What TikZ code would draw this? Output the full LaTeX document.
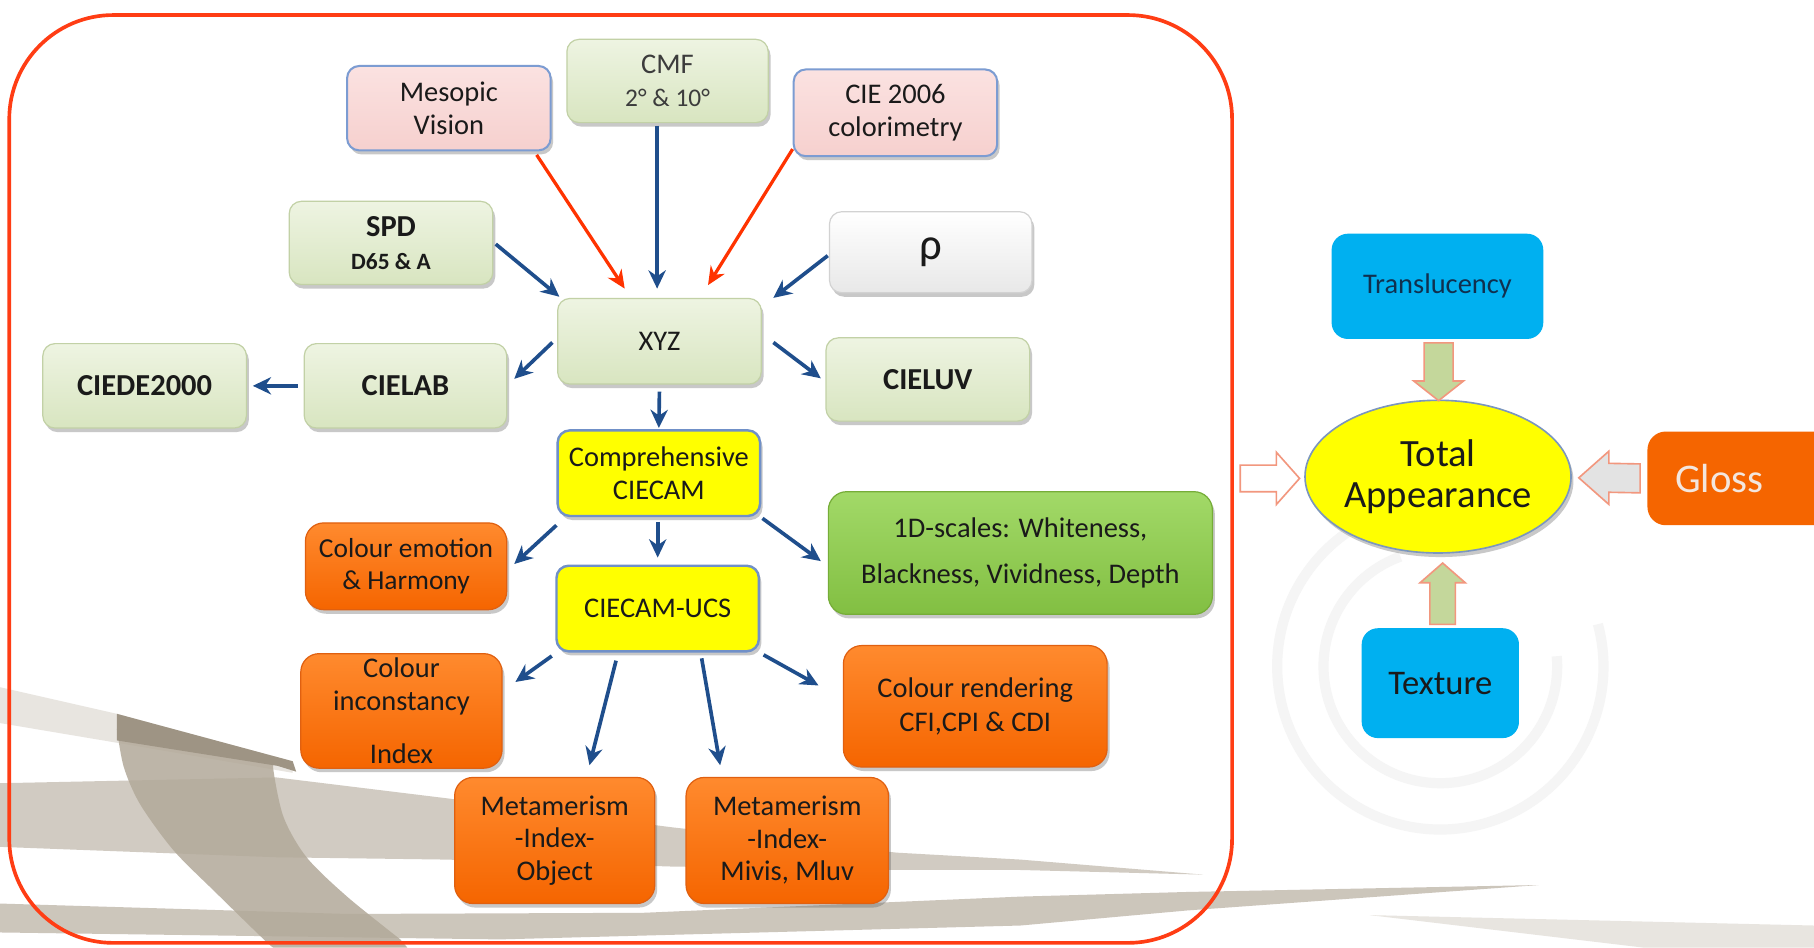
\documentclass[tikz,border=0pt]{standalone}
\usepackage{fontspec}
\setmainfont{Carlito}
\usetikzlibrary{shadows,calc,arrows.meta,shapes.geometric}

\definecolor{frameRed}{HTML}{FF3D14}
\definecolor{arrowBlue}{HTML}{1F4E8C}
\definecolor{arrowRed}{HTML}{FF3300}
\definecolor{paleT}{HTML}{EEF4E2}
\definecolor{paleB}{HTML}{D8E5C0}
\definecolor{paleE}{HTML}{C2D1A6}
\definecolor{pinkT}{HTML}{FBE2E1}
\definecolor{pinkB}{HTML}{F6D0CE}
\definecolor{pinkE}{HTML}{7C9CD2}
\definecolor{yel}{HTML}{FFFF00}
\definecolor{yelE}{HTML}{7090C8}
\definecolor{oraT}{HTML}{FF8A2E}
\definecolor{oraB}{HTML}{F56500}
\definecolor{oraE}{HTML}{E06010}
\definecolor{grnT}{HTML}{A2D968}
\definecolor{grnB}{HTML}{82BF42}
\definecolor{grnE}{HTML}{76AD38}
\definecolor{blu}{HTML}{00B0F0}
\definecolor{whtT}{HTML}{FFFFFF}
\definecolor{whtB}{HTML}{E8E8E8}
\definecolor{whtE}{HTML}{D2D2D2}
\definecolor{blockG}{HTML}{C4D79B}
\definecolor{blockE}{HTML}{F2977E}
\definecolor{blockGray}{HTML}{E3E3E3}
\definecolor{txt}{HTML}{1A1A1A}
\definecolor{cmftxt}{HTML}{3C3C3C}
\definecolor{navy}{HTML}{10304F}
\definecolor{glossTxt}{HTML}{F3E6DE}
\definecolor{ellE}{HTML}{7B96BE}
\definecolor{bgA}{HTML}{E8E5E0}
\definecolor{bgDark}{HTML}{9E9484}
\definecolor{bgMid}{HTML}{C6BFB3}
\definecolor{bgArc}{HTML}{B2A999}
\definecolor{bgLow}{HTML}{C0B8AB}
\definecolor{ring}{HTML}{F5F5F5}

\newcommand{\fz}[2]{\fontsize{#1}{#2}\selectfont}

\tikzset{
  boxbase/.style={rounded corners=6pt, align=center, inner sep=2pt, text=txt,
    font=\fz{14}{16}},
  shade/.style={drop shadow={shadow xshift=1.2pt, shadow yshift=-2pt, opacity=.3, fill=black!70}},
  gbox/.style={boxbase, shade, top color=paleT, bottom color=paleB, draw=paleE, line width=.6pt},
  pbox/.style={boxbase, shade, top color=pinkT, bottom color=pinkB, draw=pinkE, line width=1pt},
  ybox/.style={boxbase, shade, fill=yel, draw=yelE, line width=1.2pt},
  obox/.style={boxbase, shade, rounded corners=9pt, top color=oraT, bottom color=oraB, draw=oraE, line width=.6pt},
  lbox/.style={boxbase, shade, rounded corners=9pt, top color=grnT, bottom color=grnB, draw=grnE, line width=.6pt},
  wbox/.style={boxbase, shade, top color=whtT, bottom color=whtB, draw=whtE, line width=.6pt},
  bbox/.style={boxbase, rounded corners=8pt, fill=blu},
  barrow/.style={draw=arrowBlue, line width=1.8pt, -{Stealth[length=9pt,width=8.5pt]}},
  rarrow/.style={draw=arrowRed, line width=1.6pt, -{Stealth[length=9pt,width=8pt]}},
  blockarrow/.style={draw=blockE, line width=.8pt, line join=miter},
}

\begin{document}
\begin{tikzpicture}[x=0.02cm, y=-0.02cm]
\useasboundingbox (0,0) rectangle (1568,819);
\begin{scope}
\clip (0,0) rectangle (1568,819);
\fill[white] (0,0) rectangle (1568,819);

% decorative swoosh in the lower part of the slide
\fill[bgA] (0,594) -- (101,617) -- (253,658) -- (253,668) -- (101,642) -- (0,625) -- cycle;
\fill[bgMid, opacity=.8] (0,677) -- (239,672) -- (386,690) -- (580,715) -- (775,737) -- (882,743)
   -- (1040,756) -- (882,752) -- (775,752) -- (580,749) -- (386,743) -- (239,741) -- (0,732) -- cycle;
\fill[bgLow, opacity=.8] (0,781) -- (300,790) -- (556,789) -- (882,775) -- (1026,771) -- (1330,765)
   -- (1026,787) -- (882,800) -- (432,812) -- (0,806) -- cycle;
\fill[bgArc, opacity=.85] plot[smooth] coordinates {(101,630) (107,663) (121,695) (150,735) (187,772) (228,812) (236,819)}
   -- (352,819) -- plot[smooth] coordinates {(346,812) (300,775) (265,741) (245,706) (236,663) (240,660)} -- cycle;
\fill[bgDark] (101,617) -- (253,658) -- (256,667) -- (240,662) -- (101,640) -- cycle;
\fill[bgA] (1184,791) -- (1568,800) -- (1568,819) -- (1420,819) -- cycle;

% faint rings behind the texture box
\draw[ring, line width=5pt] (1245,576) ++(-15:141) arc[start angle=-15, end angle=255, radius=141];
\draw[ring, line width=5pt] (1245,576) ++(-5:101) arc[start angle=-5, end angle=250, radius=101];

% frame around the colorimetry chain
\draw[frameRed, line width=1.8pt, rounded corners=1.8cm] (8,13) rectangle (1065,815);

% inputs
\node[pbox, minimum width=3.52cm, minimum height=1.46cm] (mesopic) at (388,93.5) {Mesopic\\Vision};
\node[gbox, minimum width=3.48cm, minimum height=1.44cm, text=cmftxt] (cmf) at (577,70)
   {CMF\\{\fz{12.5}{14}2° \& 10°}};
\node[pbox, minimum width=3.52cm, minimum height=1.5cm] (cie06) at (774,97.5) {CIE 2006\\colorimetry};
\node[gbox, minimum width=3.52cm, minimum height=1.44cm] (spd) at (338,210)
   {{\fz{15}{16}\bfseries SPD}\\{\fz{11.5}{14}\bfseries D65 \& A}};
\node[wbox, minimum width=3.5cm, minimum height=1.4cm, font=\fz{22}{24}] (rho) at (804.5,218) {ρ};

% colour spaces
\node[gbox, minimum width=3.52cm, minimum height=1.48cm] (xyz) at (570,295) {XYZ};
\node[gbox, minimum width=3.52cm, minimum height=1.46cm, font=\fz{15}{16}\bfseries] (ciede) at (125,333.5) {CIEDE2000};
\node[gbox, minimum width=3.5cm, minimum height=1.46cm, font=\fz{15}{16}\bfseries] (cielab) at (350.5,333.5) {CIELAB};
\node[gbox, minimum width=3.52cm, minimum height=1.44cm, font=\fz{15}{16}\bfseries] (cieluv) at (802,328) {CIELUV};

% appearance models and derived metrics
\node[ybox, minimum width=3.5cm, minimum height=1.48cm] (comp) at (569.5,409) {Comprehensive\\CIECAM};
\node[obox, minimum width=3.48cm, minimum height=1.5cm, font=\fz{13.5}{16}] (emotion) at (351,489.5) {Colour emotion\\\& Harmony};
\node[lbox, minimum width=6.64cm, minimum height=2.12cm, font=\fz{14}{23}] (scales) at (882,478)
   {1D-scales: Whiteness,\\Blackness, Vividness, Depth};
\node[ybox, minimum width=3.5cm, minimum height=1.48cm] (ucs) at (568.5,526) {CIECAM-UCS};
\node[obox, minimum width=3.48cm, minimum height=1.98cm] (inconst) at (347,614.5) {Colour\\inconstancy\\[10.5pt]Index};
\node[obox, minimum width=4.56cm, minimum height=2.1cm, font=\fz{14}{17}] (render) at (843,610.5) {Colour rendering\\CFI,CPI \& CDI};
\node[obox, minimum width=3.46cm, minimum height=2.18cm] (metaobj) at (479.5,726.5) {Metamerism\\-Index-\\Object};
\node[obox, minimum width=3.5cm, minimum height=2.18cm] (metamiv) at (680.5,726.5) {Metamerism\\-Index-\\Mivis, Mluv};

% connectors
\draw[barrow] ($(cmf.south)+(-9,2)$) -- ($(xyz.north)+(-2,-8)$);
\draw[rarrow] ($(mesopic.south east)+(-13,3)$) -- ($(xyz.north)+(-30,-8)$);
\draw[rarrow] ($(cie06.south west)+(0,-7)$) -- ($(xyz.north)+(42,-11)$);
\draw[barrow] ($(spd.east)+(2,1)$) -- ($(xyz.north west)+(2,-1)$);
\draw[barrow] ($(rho.west)+(-1,3)$) -- ($(xyz.north east)+(10,0)$);
\draw[barrow] ($(xyz.west)+(-4,1)$) -- ($(cielab.east)+(6,-6)$);
\draw[barrow] ($(cielab.west)+(-5,0)$) -- ($(ciede.east)+(5,0)$);
\draw[barrow] ($(xyz.east)+(10,1)$) -- ($(cieluv.west)+(-4,-1)$);
\draw[barrow] ($(xyz.south)+(0,6)$) -- ($(comp.north)+(0,-1)$);
\draw[barrow] ($(comp.south west)+(0,7)$) -- ($(emotion.east)+(6,-2)$);
\draw[barrow] ($(comp.south)+(-1,4)$) -- ($(ucs.north)+(0,-6)$);
\draw[barrow] ($(comp.south east)+(1,1)$) -- ($(scales.west)+(-6,7)$);
\draw[barrow] ($(ucs.south west)+(-3,3)$) -- ($(inconst.north east)+(11,25)$);
\draw[barrow] ($(ucs.south)+(-36,7)$) -- ($(metaobj.north)+(30,-10)$);
\draw[barrow] ($(ucs.south)+(38,5)$) -- ($(metamiv.north)+(-58,-10)$);
\draw[barrow] ($(ucs.south east)+(3,2)$) -- ($(render.west)+(-21,-18)$);

% total appearance attributes
\node[bbox, minimum width=3.66cm, minimum height=1.82cm, text=navy] (transl) at (1242.5,247.5) {Translucency};
\node[ellipse, minimum width=4.6cm, minimum height=2.64cm, inner sep=0pt, fill=yel, draw=ellE, line width=.8pt,
   align=center, text=txt, font=\fz{19}{20.5}, shade] (total) at (1243,412) {Total\\Appearance};
\node[bbox, rounded corners=9pt, fill=oraB, minimum width=3.52cm, minimum height=1.62cm,
   label={[text=glossTxt, font=\fz{20}{22}, xshift=-14.7pt]center:Gloss}] (gloss) at (1512,413.5) {};
\node[bbox, minimum width=2.72cm, minimum height=1.9cm, font=\fz{17}{18}] (texture) at (1245,590.5) {Texture};

% block arrows into the ellipse
\coordinate (tA) at ($(transl.south)+(1,3)$);
\coordinate (tB) at ($(total.north)+(0.5,1)$);
\draw[blockarrow, fill=blockG] ($(tA)+(-12.5,0)$) -- ($(tA)+(12.5,0)$) -- ($(tB)+(12.5,-17)$) -- ($(tB)+(21.5,-17)$)
   -- (tB) -- ($(tB)+(-21.5,-17)$) -- ($(tB)+(-12.5,-17)$) -- cycle;
\coordinate (uA) at ($(texture.north)+(2,-3)$);
\coordinate (uB) at ($(total.south)+(4,8)$);
\draw[blockarrow, fill=blockG] ($(uA)+(-11,0)$) -- ($(uA)+(11,0)$) -- ($(uB)+(11,17)$) -- ($(uB)+(19.5,17)$)
   -- (uB) -- ($(uB)+(-19.5,17)$) -- ($(uB)+(-11,17)$) -- cycle;
\coordinate (lA) at (1072,413.5);
\coordinate (lB) at ($(total.west)+(-4,1.5)$);
\draw[blockarrow, fill=white] ($(lA)+(0,-11.5)$) -- ($(lB)+(-20,-11.5)$) -- ($(lB)+(-20,-22.5)$) -- (lB)
   -- ($(lB)+(-20,22.5)$) -- ($(lB)+(-20,11.5)$) -- ($(lA)+(0,11.5)$) -- cycle;
\coordinate (gA) at ($(gloss.west)+(-6,0)$);
\coordinate (gB) at ($(total.east)+(6,1)$);
\draw[blockarrow, fill=blockGray] ($(gA)+(0,-12.5)$) -- ($(gB)+(26,-12.5)$) -- ($(gB)+(26,-23)$) -- (gB)
   -- ($(gB)+(26,23)$) -- ($(gB)+(26,12.5)$) -- ($(gA)+(0,12.5)$) -- cycle;
\end{scope}
\end{tikzpicture}
\end{document}
